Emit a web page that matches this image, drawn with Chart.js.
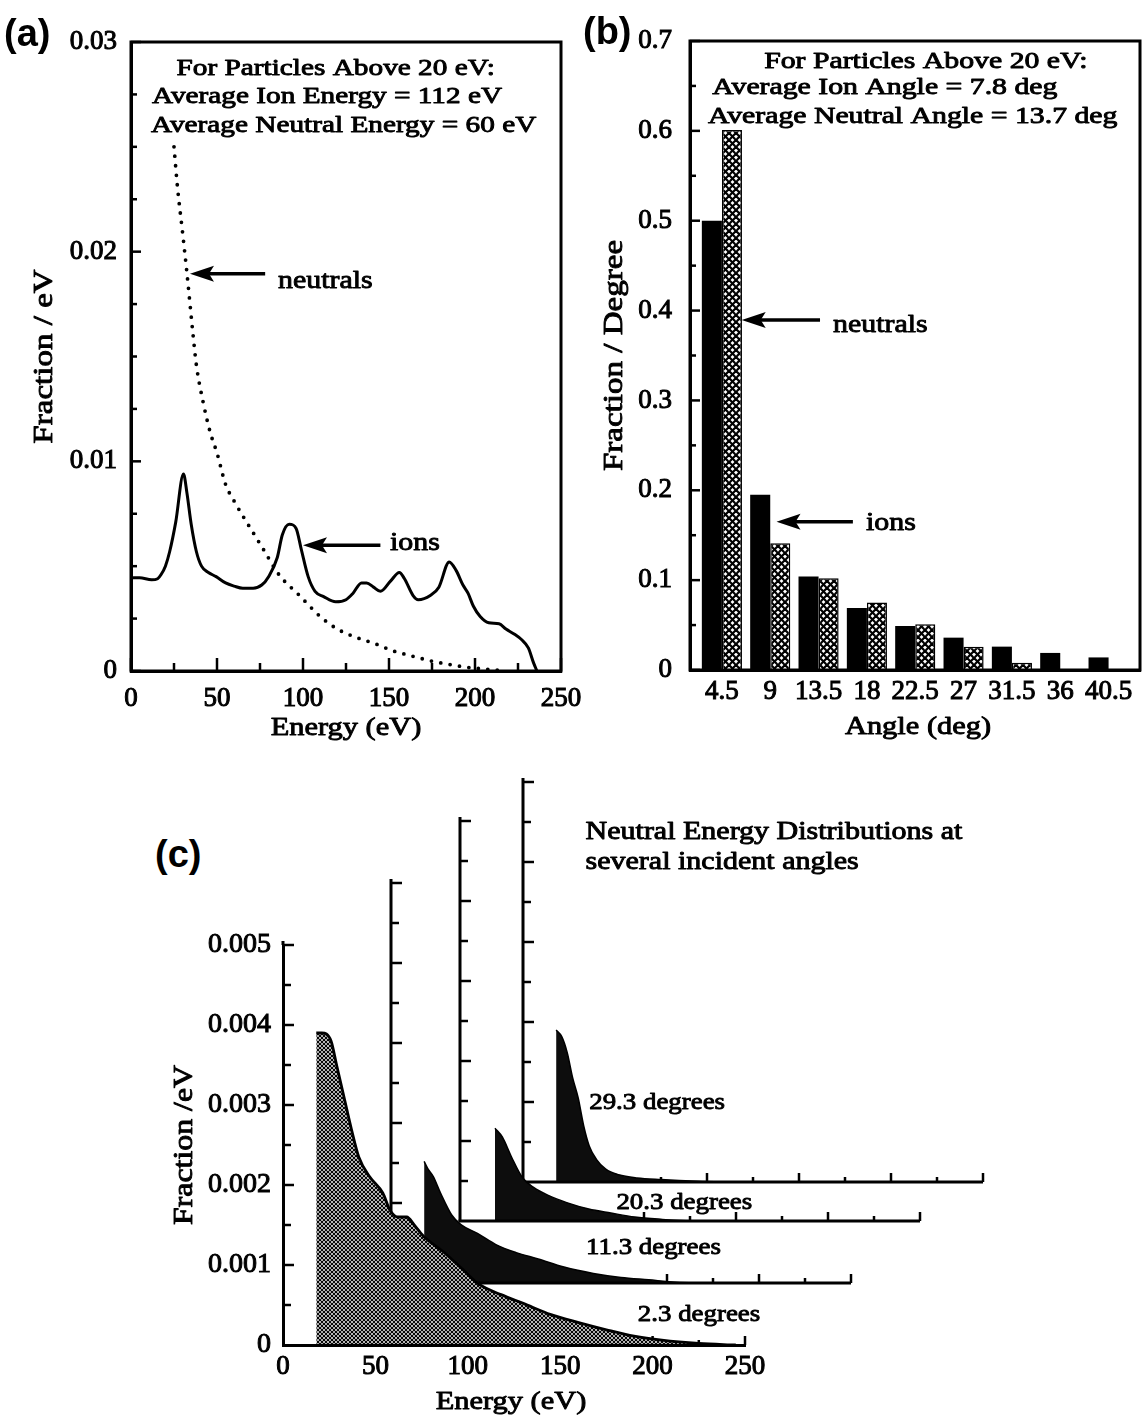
<!DOCTYPE html>
<html lang="en">
<head>
<meta charset="utf-8">
<title>Ion and neutral energy and angular distributions</title>
<script src="https://cdn.jsdelivr.net/npm/chart.js@4.4.1/dist/chart.umd.min.js"></script>
<style>
  html, body { margin: 0; padding: 0; background: #fff; }
  #figure { position: relative; width: 1143px; height: 1420px; overflow: hidden; background: #fff; }
  #figure canvas { position: absolute; }
  .panel-tag { position: absolute; font: bold 38px "Liberation Sans", Arial, sans-serif; line-height: 38px; color: #000; }
</style>
</head>
<body>
<div id="figure">
  <canvas id="energyChart" width="600" height="760" style="left:0;top:0"></canvas>
  <canvas id="angleChart" width="568" height="760" style="left:575px;top:0"></canvas>
  <canvas id="stack29" width="480" height="420"></canvas>
  <canvas id="stack20" width="480" height="420"></canvas>
  <canvas id="stack11" width="480" height="420"></canvas>
  <canvas id="stack2" width="790" height="520" style="left:0;top:900px"></canvas>
  <div class="panel-tag" style="left:4px;top:14px">(a)</div>
  <div class="panel-tag" style="left:583px;top:12px">(b)</div>
  <div class="panel-tag" style="left:155px;top:835px">(c)</div>
</div>
<script>
const SERIF = '"Liberation Serif", "Times New Roman", Times, serif';

// ---------- (a) energy distributions at the surface ----------
const ionEnergy = [0, 5, 12, 15.5, 17.5, 20, 22.5, 26, 30.5, 32.5, 35, 38, 41, 45, 49.5, 55, 60, 65, 71, 76,
  80, 85, 88, 92, 96, 99, 103, 107, 112, 119, 125, 129, 134, 137, 141, 145, 151, 156, 159, 164,
  167, 174, 179, 185, 189, 193, 196, 199, 203, 208, 214, 218, 223, 227, 231, 234, 236];
const ionFraction = [0.00444, 0.00445, 0.00435, 0.0044, 0.0046, 0.0050, 0.0057, 0.0071, 0.0094, 0.0085,
  0.0070, 0.0057, 0.0050, 0.0047, 0.0045, 0.0042, 0.00405, 0.00395, 0.00395, 0.0041,
  0.0045, 0.0054, 0.0065, 0.0070, 0.0068, 0.0058, 0.0045, 0.0038, 0.00355, 0.0033,
  0.0034, 0.0037, 0.0042, 0.0042, 0.0040, 0.0038, 0.0043, 0.0047, 0.0044, 0.0036,
  0.0034, 0.0036, 0.0040, 0.0052, 0.0048, 0.0041, 0.0037, 0.0031, 0.0026, 0.0023,
  0.00225, 0.0020, 0.00175, 0.0015, 0.0011, 0.0004, 0];
const neutralEnergy = [25, 27, 30, 32.5, 36, 38, 42, 46, 50, 55, 60, 65, 71, 77, 86, 98, 110, 120, 131,
  142, 152, 164, 176, 186, 195, 205, 213];
const neutralFraction = [0.0250, 0.0231, 0.0209, 0.0190, 0.0161, 0.0146, 0.0128, 0.0114, 0.0104, 0.0089,
  0.0081, 0.0074, 0.0066, 0.0058, 0.0046, 0.0036, 0.0026, 0.0020, 0.0016, 0.0013,
  0.00097, 0.0007, 0.00045, 0.0003, 0.00018, 0.0001, 0.00004];

// ---------- (b) angular distributions ----------
const angleBins = ['4.5', '9', '13.5', '18', '22.5', '27', '31.5', '36', '40.5'];
const ionAngleFraction = [0.500, 0.195, 0.104, 0.069, 0.049, 0.036, 0.026, 0.019, 0.014];
const neutralAngleFraction = [0.601, 0.141, 0.102, 0.075, 0.051, 0.026, 0.008, 0, 0];

// ---------- (c) neutral energy distributions by incident angle ----------
const deg2Energy = [18, 21, 26, 29, 33, 37, 41, 47, 54, 58, 62, 67, 71, 76, 87, 97, 106, 118, 130, 145,
  160, 175, 190, 205, 225, 245];
const deg2Fraction = [0.0039, 0.0039, 0.0038, 0.0035, 0.0031, 0.0027, 0.00235, 0.0021, 0.0019, 0.00168,
  0.0016, 0.0016, 0.0015, 0.00136, 0.00116, 0.00095, 0.00076, 0.00063, 0.00052, 0.00038,
  0.00028, 0.00019, 0.00011, 0.00006, 0.00002, 0];
const deg11Energy = [18, 20, 23, 27, 33, 38, 47, 57, 68, 80, 94, 110, 125, 140, 155, 170];
const deg11Fraction = [0.00152, 0.00143, 0.00133, 0.00112, 0.00085, 0.00073, 0.00062, 0.00048, 0.00038,
  0.0003, 0.0002, 0.00012, 0.00007, 0.00004, 0.00001, 0];
const deg20Energy = [19, 23, 28, 34, 40, 48, 58, 70, 82, 95, 110, 125];
const deg20Fraction = [0.00116, 0.00105, 0.0008, 0.00054, 0.00042, 0.00032, 0.00023, 0.00015, 0.0001,
  0.00005, 0.00002, 0];
const deg29Energy = [18, 21, 24, 27, 30, 33, 36, 40, 45, 52, 62, 75, 95, 115];
const deg29Fraction = [0.0019, 0.00182, 0.00162, 0.0013, 0.00105, 0.0007, 0.00045, 0.00028, 0.00016,
  0.00009, 0.00005, 0.00003, 0.00001, 0];
const incidentAngles = ['2.3', '11.3', '20.3', '29.3'];

Chart.defaults.font.family = SERIF;
Chart.defaults.color = '#000';

// ---------- drawing helpers ----------
function seg(ctx, x1, y1, x2, y2) {
  ctx.beginPath(); ctx.moveTo(x1, y1); ctx.lineTo(x2, y2); ctx.stroke();
}

// serif text, widened along its baseline like the typeset originals
function drawLabel(ctx, text, x, y, o = {}) {
  const size = o.size || 24, sx = o.sx || 1.2, stroke = o.stroke === undefined ? 0.9 : o.stroke;
  ctx.save();
  ctx.translate(x, y);
  if (o.rotate) ctx.rotate(o.rotate);
  ctx.scale(sx, 1);
  ctx.font = `${size}px ${SERIF}`;
  ctx.textAlign = o.align || 'left';
  ctx.textBaseline = 'middle';
  ctx.fillStyle = '#000';
  ctx.fillText(text, 0, 0);
  if (stroke > 0) { ctx.lineWidth = stroke; ctx.strokeStyle = '#000'; ctx.lineJoin = 'round'; ctx.strokeText(text, 0, 0); }
  ctx.restore();
}

function arrow(ctx, xTail, yTail, xTip, yTip) {
  const ang = Math.atan2(yTip - yTail, xTip - xTail);
  const len = Math.hypot(xTip - xTail, yTip - yTail);
  ctx.save();
  ctx.translate(xTip, yTip); ctx.rotate(ang);
  ctx.strokeStyle = '#000'; ctx.fillStyle = '#000'; ctx.lineWidth = 3.5;
  seg(ctx, -len, 0, -16, 0);
  ctx.beginPath(); ctx.moveTo(0, 0); ctx.lineTo(-24, -8); ctx.lineTo(-19, 0); ctx.lineTo(-24, 8);
  ctx.closePath(); ctx.fill();
  ctx.restore();
}

// tick marks pointing into the plot, longer where a label is printed
function inwardTicks(ctx, scale, area, major, minor) {
  ctx.save(); ctx.strokeStyle = '#000'; ctx.lineWidth = 2.5;
  scale.ticks.forEach(t => {
    const len = t.label === '' ? minor : major;
    const p = scale.getPixelForValue(t.value);
    if (scale.isHorizontal()) seg(ctx, p, area.bottom, p, area.bottom - len);
    else seg(ctx, area.left, p, area.left + len, p);
  });
  ctx.restore();
}

function frame(ctx, a) {
  ctx.save(); ctx.strokeStyle = '#000'; ctx.lineWidth = 3;
  ctx.strokeRect(a.left, a.top, a.right - a.left, a.bottom - a.top);
  ctx.restore();
}

function fixedAxis(extent, horizontal) {
  return scale => {
    if (horizontal) scale.height = extent; else scale.width = extent;
    scale.paddingLeft = scale.paddingRight = scale.paddingTop = scale.paddingBottom = 0;
  };
}

function labelledTicks(step, every, digits, size, padding) {
  const ratio = Math.round(every / step);
  return {
    stepSize: step, autoSkip: false, maxRotation: 0, minRotation: 0, padding,
    font: { family: SERIF, size }, color: '#000', textStrokeColor: '#000', textStrokeWidth: 1,
    callback: v => {
      const k = Math.round(v / step);
      if (k % ratio !== 0) return '';
      return k === 0 ? '0' : (k * step).toFixed(digits);
    }
  };
}

const plainGrid = { display: false, drawTicks: false };
const solidBorder = { display: true, width: 3, color: '#000', z: 1 };
const quiet = { legend: { display: false }, tooltip: { enabled: false } };

function tilePattern(targetCanvas, size, paint) {
  const tile = document.createElement('canvas');
  tile.width = tile.height = size;
  paint(tile.getContext('2d'), size);
  return targetCanvas.getContext('2d').createPattern(tile, 'repeat');
}

function crossLines(g, s, width) {
  g.fillStyle = '#fff'; g.fillRect(0, 0, s, s);
  g.strokeStyle = '#000'; g.lineWidth = width;
  for (const k of [-s, 0, s]) {
    seg(g, k - 1, -1, k + s + 1, s + 1);
    seg(g, k + s + 1, -1, k - 1, s + 1);
  }
}

// ================= (a) =================
const energyDecor = {
  id: 'energyDecor',
  beforeDatasetsDraw(chart) {
    const { ctx, chartArea: a, scales: { x, y } } = chart;
    inwardTicks(ctx, y, a, 10, 6);
    inwardTicks(ctx, x, a, 13, 8);
  },
  afterDatasetsDraw(chart) {
    const { ctx, chartArea: a, scales: { x, y } } = chart;
    frame(ctx, a);
    const px = v => x.getPixelForValue(v), py = v => y.getPixelForValue(v);
    drawLabel(ctx, 'For Particles Above 20 eV:', px(119), py(0.02871), { align: 'center', sx: 1.22 });
    drawLabel(ctx, 'Average Ion Energy = 112 eV', px(12.2), py(0.02738), { sx: 1.22 });
    drawLabel(ctx, 'Average Neutral Energy = 60 eV', px(11.6), py(0.0260), { sx: 1.22 });
    arrow(ctx, px(78), py(0.01895), px(34.3), py(0.01895));
    drawLabel(ctx, 'neutrals', px(85.5), py(0.0186), { size: 26, sx: 1.15 });
    arrow(ctx, px(145), py(0.0060), px(100), py(0.0060));
    drawLabel(ctx, 'ions', px(150.6), py(0.0061), { size: 26, sx: 1.15 });
    drawLabel(ctx, 'Fraction / eV', a.left - 86, (a.top + a.bottom) / 2, { size: 28, sx: 1.18, align: 'center', rotate: -Math.PI / 2 });
    drawLabel(ctx, 'Energy (eV)', (a.left + a.right) / 2, a.bottom + 57, { size: 26, sx: 1.17, align: 'center' });
  }
};

new Chart(document.getElementById('energyChart'), {
  type: 'line',
  data: {
    datasets: [
      { label: 'ions', data: ionEnergy.map((e, i) => ({ x: e, y: ionFraction[i] })),
        borderColor: '#000', borderWidth: 3, pointRadius: 0, cubicInterpolationMode: 'monotone', fill: false },
      { label: 'neutrals', data: neutralEnergy.map((e, i) => ({ x: e, y: neutralFraction[i] })),
        borderColor: '#000', borderWidth: 3.8, borderDash: [0, 9.5], borderCapStyle: 'round',
        pointRadius: 0, cubicInterpolationMode: 'monotone', fill: false }
    ]
  },
  options: {
    responsive: false, animation: false, devicePixelRatio: 1,
    layout: { padding: { top: 42, right: 39, bottom: 0, left: 0 } },
    plugins: quiet,
    scales: {
      x: { type: 'linear', min: 0, max: 250, grid: plainGrid, border: solidBorder,
           ticks: labelledTicks(25, 50, 0, 27, 12), afterFit: fixedAxis(89, true) },
      y: { type: 'linear', min: 0, max: 0.03, grid: plainGrid, border: solidBorder,
           ticks: labelledTicks(0.0025, 0.01, 2, 27, 14), afterFit: fixedAxis(131, false) }
    }
  },
  plugins: [energyDecor]
});

// ================= (b) =================
const angleCanvas = document.getElementById('angleChart');
const crossHatch = tilePattern(angleCanvas, 7, (g, s) => crossLines(g, s, 2.2));

const angleDecor = {
  id: 'angleDecor',
  beforeDatasetsDraw(chart) {
    const { ctx, chartArea: a, scales: { y } } = chart;
    inwardTicks(ctx, y, a, 10, 6);
  },
  afterDatasetsDraw(chart) {
    const { ctx, chartArea: a, scales: { x, y } } = chart;
    frame(ctx, a);
    const px = v => x.getPixelForValue(v), py = v => y.getPixelForValue(v);
    drawLabel(ctx, 'For Particles Above 20 eV:', px(4.22), py(0.6766), { align: 'center', sx: 1.24 });
    drawLabel(ctx, 'Average Ion Angle = 7.8 deg', px(-0.2), py(0.6477), { sx: 1.24 });
    drawLabel(ctx, 'Average Neutral Angle = 13.7 deg', px(-0.29), py(0.6154), { sx: 1.24 });
    arrow(ctx, px(2.03), py(0.3895), px(0.41), py(0.3895));
    drawLabel(ctx, 'neutrals', px(2.3), py(0.384), { size: 26, sx: 1.15 });
    arrow(ctx, px(2.71), py(0.165), px(1.13), py(0.165));
    drawLabel(ctx, 'ions', px(2.98), py(0.1636), { size: 26, sx: 1.15 });
    drawLabel(ctx, 'Fraction / Degree', a.left - 75, (a.top + a.bottom) / 2, { size: 28, sx: 1.18, align: 'center', rotate: -Math.PI / 2 });
    drawLabel(ctx, 'Angle (deg)', (a.left + a.right) / 2 + 3, a.bottom + 57, { size: 26, sx: 1.17, align: 'center' });
  }
};

new Chart(angleCanvas, {
  type: 'bar',
  data: {
    datasets: [
      { label: 'ions', data: ionAngleFraction.map((v, i) => ({ x: i, y: v })),
        backgroundColor: '#000', borderWidth: 0 },
      { label: 'neutrals', data: neutralAngleFraction.map((v, i) => ({ x: i, y: v })),
        backgroundColor: crossHatch, borderColor: '#000', borderWidth: 1.5, borderSkipped: 'bottom' }
    ]
  },
  options: {
    responsive: false, animation: false, devicePixelRatio: 1,
    datasets: { bar: { categoryPercentage: 0.83, barPercentage: 1 } },
    layout: { padding: { top: 41, right: 3, bottom: 0, left: 0 } },
    plugins: quiet,
    scales: {
      x: { type: 'linear', min: -0.66, max: 8.65, offset: false, grid: plainGrid, border: solidBorder,
           afterBuildTicks: s => { s.ticks = angleBins.map((_, i) => ({ value: i })); },
           ticks: { autoSkip: false, maxRotation: 0, minRotation: 0, padding: 6,
                    font: { family: SERIF, size: 27 }, color: '#000', textStrokeColor: '#000', textStrokeWidth: 1,
                    callback: v => angleBins[v] ?? '' },
           afterFit: fixedAxis(90, true) },
      y: { type: 'linear', min: 0, max: 0.7, grid: plainGrid, border: solidBorder,
           ticks: labelledTicks(0.05, 0.1, 1, 27, 18), afterFit: fixedAxis(115, false) }
    }
  },
  plugins: [angleDecor]
});

// ================= (c) =================
// back-to-front offset axes; each plot spans 0-250 eV and 0-0.005 /eV
const stackLayout = [
  { id: 'stack2',  left: 283, base: 1345 },
  { id: 'stack11', left: 391, base: 1283 },
  { id: 'stack20', left: 460, base: 1221 },
  { id: 'stack29', left: 523, base: 1182 }
];
const stackSeries = [
  { energy: deg2Energy,  fraction: deg2Fraction,  tagAt: [192, 0.000375] },
  { energy: deg11Energy, fraction: deg11Fraction, tagAt: [106, 0.00044] },
  { energy: deg20Energy, fraction: deg20Fraction, tagAt: [85, 0.00023] },
  { energy: deg29Energy, fraction: deg29Fraction, tagAt: [36, 0.00099] }
];

stackLayout.forEach((p, i) => {
  if (i === 0) return;
  const c = document.getElementById(p.id);
  c.style.left = (p.left - 10) + 'px';
  c.style.top = (p.base - 410) + 'px';
});

function stackDecor(index) {
  const front = index === 0;
  return {
    id: 'stackDecor' + index,
    beforeDatasetsDraw(chart) {
      const { ctx, chartArea: a, scales: { x } } = chart;
      ctx.save(); ctx.strokeStyle = '#000'; ctx.lineWidth = 2.5;
      for (let k = 1; k * 25 <= 250; k++) {
        const px = x.getPixelForValue(k * 25);
        seg(ctx, px, a.bottom, px, a.bottom - (k % 2 === 0 ? 9 : 5));
      }
      ctx.restore();
    },
    afterDatasetsDraw(chart) {
      const { ctx, chartArea: a, scales: { x, y } } = chart;
      ctx.save(); ctx.strokeStyle = '#000'; ctx.lineWidth = 3;
      if (!front) {
        seg(ctx, a.left, a.bottom, a.left, a.top - 4);
        seg(ctx, a.left - 1.5, a.bottom, a.right, a.bottom);
      } else {
        seg(ctx, a.left, a.top, a.left, a.top - 4);
      }
      ctx.lineWidth = 2.5;
      for (let k = 1; k <= 10; k++) {
        const py = y.getPixelForValue(k * 0.0005);
        seg(ctx, a.left, py, a.left + (k % 2 === 0 ? 11 : 8), py);
      }
      ctx.restore();
      const s = stackSeries[index];
      drawLabel(ctx, incidentAngles[index] + ' degrees', x.getPixelForValue(s.tagAt[0]), y.getPixelForValue(s.tagAt[1]), { size: 24, sx: 1.12 });
      if (index === 3) {
        drawLabel(ctx, 'Neutral Energy Distributions at', x.getPixelForValue(34), y.getPixelForValue(0.004375), { size: 25, sx: 1.2 });
        drawLabel(ctx, 'several incident angles', x.getPixelForValue(34), y.getPixelForValue(0.00399), { size: 25, sx: 1.2 });
      }
      if (front) {
        drawLabel(ctx, 'Fraction /eV', a.left - 98, (a.top + a.bottom) / 2, { size: 27, sx: 1.18, align: 'center', rotate: -Math.PI / 2 });
        drawLabel(ctx, 'Energy (eV)', (a.left + a.right) / 2 - 3, a.bottom + 57, { size: 26, sx: 1.17, align: 'center' });
      }
    }
  };
}

// draw from the back so the front plots cover the ones behind them
[3, 2, 1, 0].forEach(index => {
  const p = stackLayout[index], s = stackSeries[index];
  const canvas = document.getElementById(p.id);
  const front = index === 0;
  const fillStyle = front ? tilePattern(canvas, 4, (g, sz) => crossLines(g, sz, 1.15)) : '#0d0d0d';
  const xOpts = { type: 'linear', min: 0, max: 250 };
  const yOpts = { type: 'linear', min: 0, max: 0.005 };
  if (front) {
    Object.assign(xOpts, { grid: plainGrid, border: solidBorder, ticks: labelledTicks(25, 50, 0, 27, 6), afterFit: fixedAxis(75, true) });
    Object.assign(yOpts, { grid: plainGrid, border: solidBorder, ticks: labelledTicks(0.0005, 0.001, 3, 28, 12), afterFit: fixedAxis(283, false) });
  } else {
    xOpts.display = false; yOpts.display = false;
  }
  new Chart(canvas, {
    type: 'line',
    data: {
      datasets: [{
        label: incidentAngles[index] + ' degrees',
        data: s.energy.map((e, i) => ({ x: e, y: s.fraction[i] })),
        borderColor: '#000', borderWidth: front ? 2.8 : 1.5, backgroundColor: fillStyle,
        fill: 'origin', pointRadius: 0, cubicInterpolationMode: 'monotone'
      }]
    },
    options: {
      responsive: false, animation: false, devicePixelRatio: 1,
      layout: { padding: front ? { top: 45, right: 45, bottom: 0, left: 0 } : 10 },
      plugins: quiet,
      scales: { x: xOpts, y: yOpts }
    },
    plugins: [stackDecor(index)]
  });
});
</script>
</body>
</html>
